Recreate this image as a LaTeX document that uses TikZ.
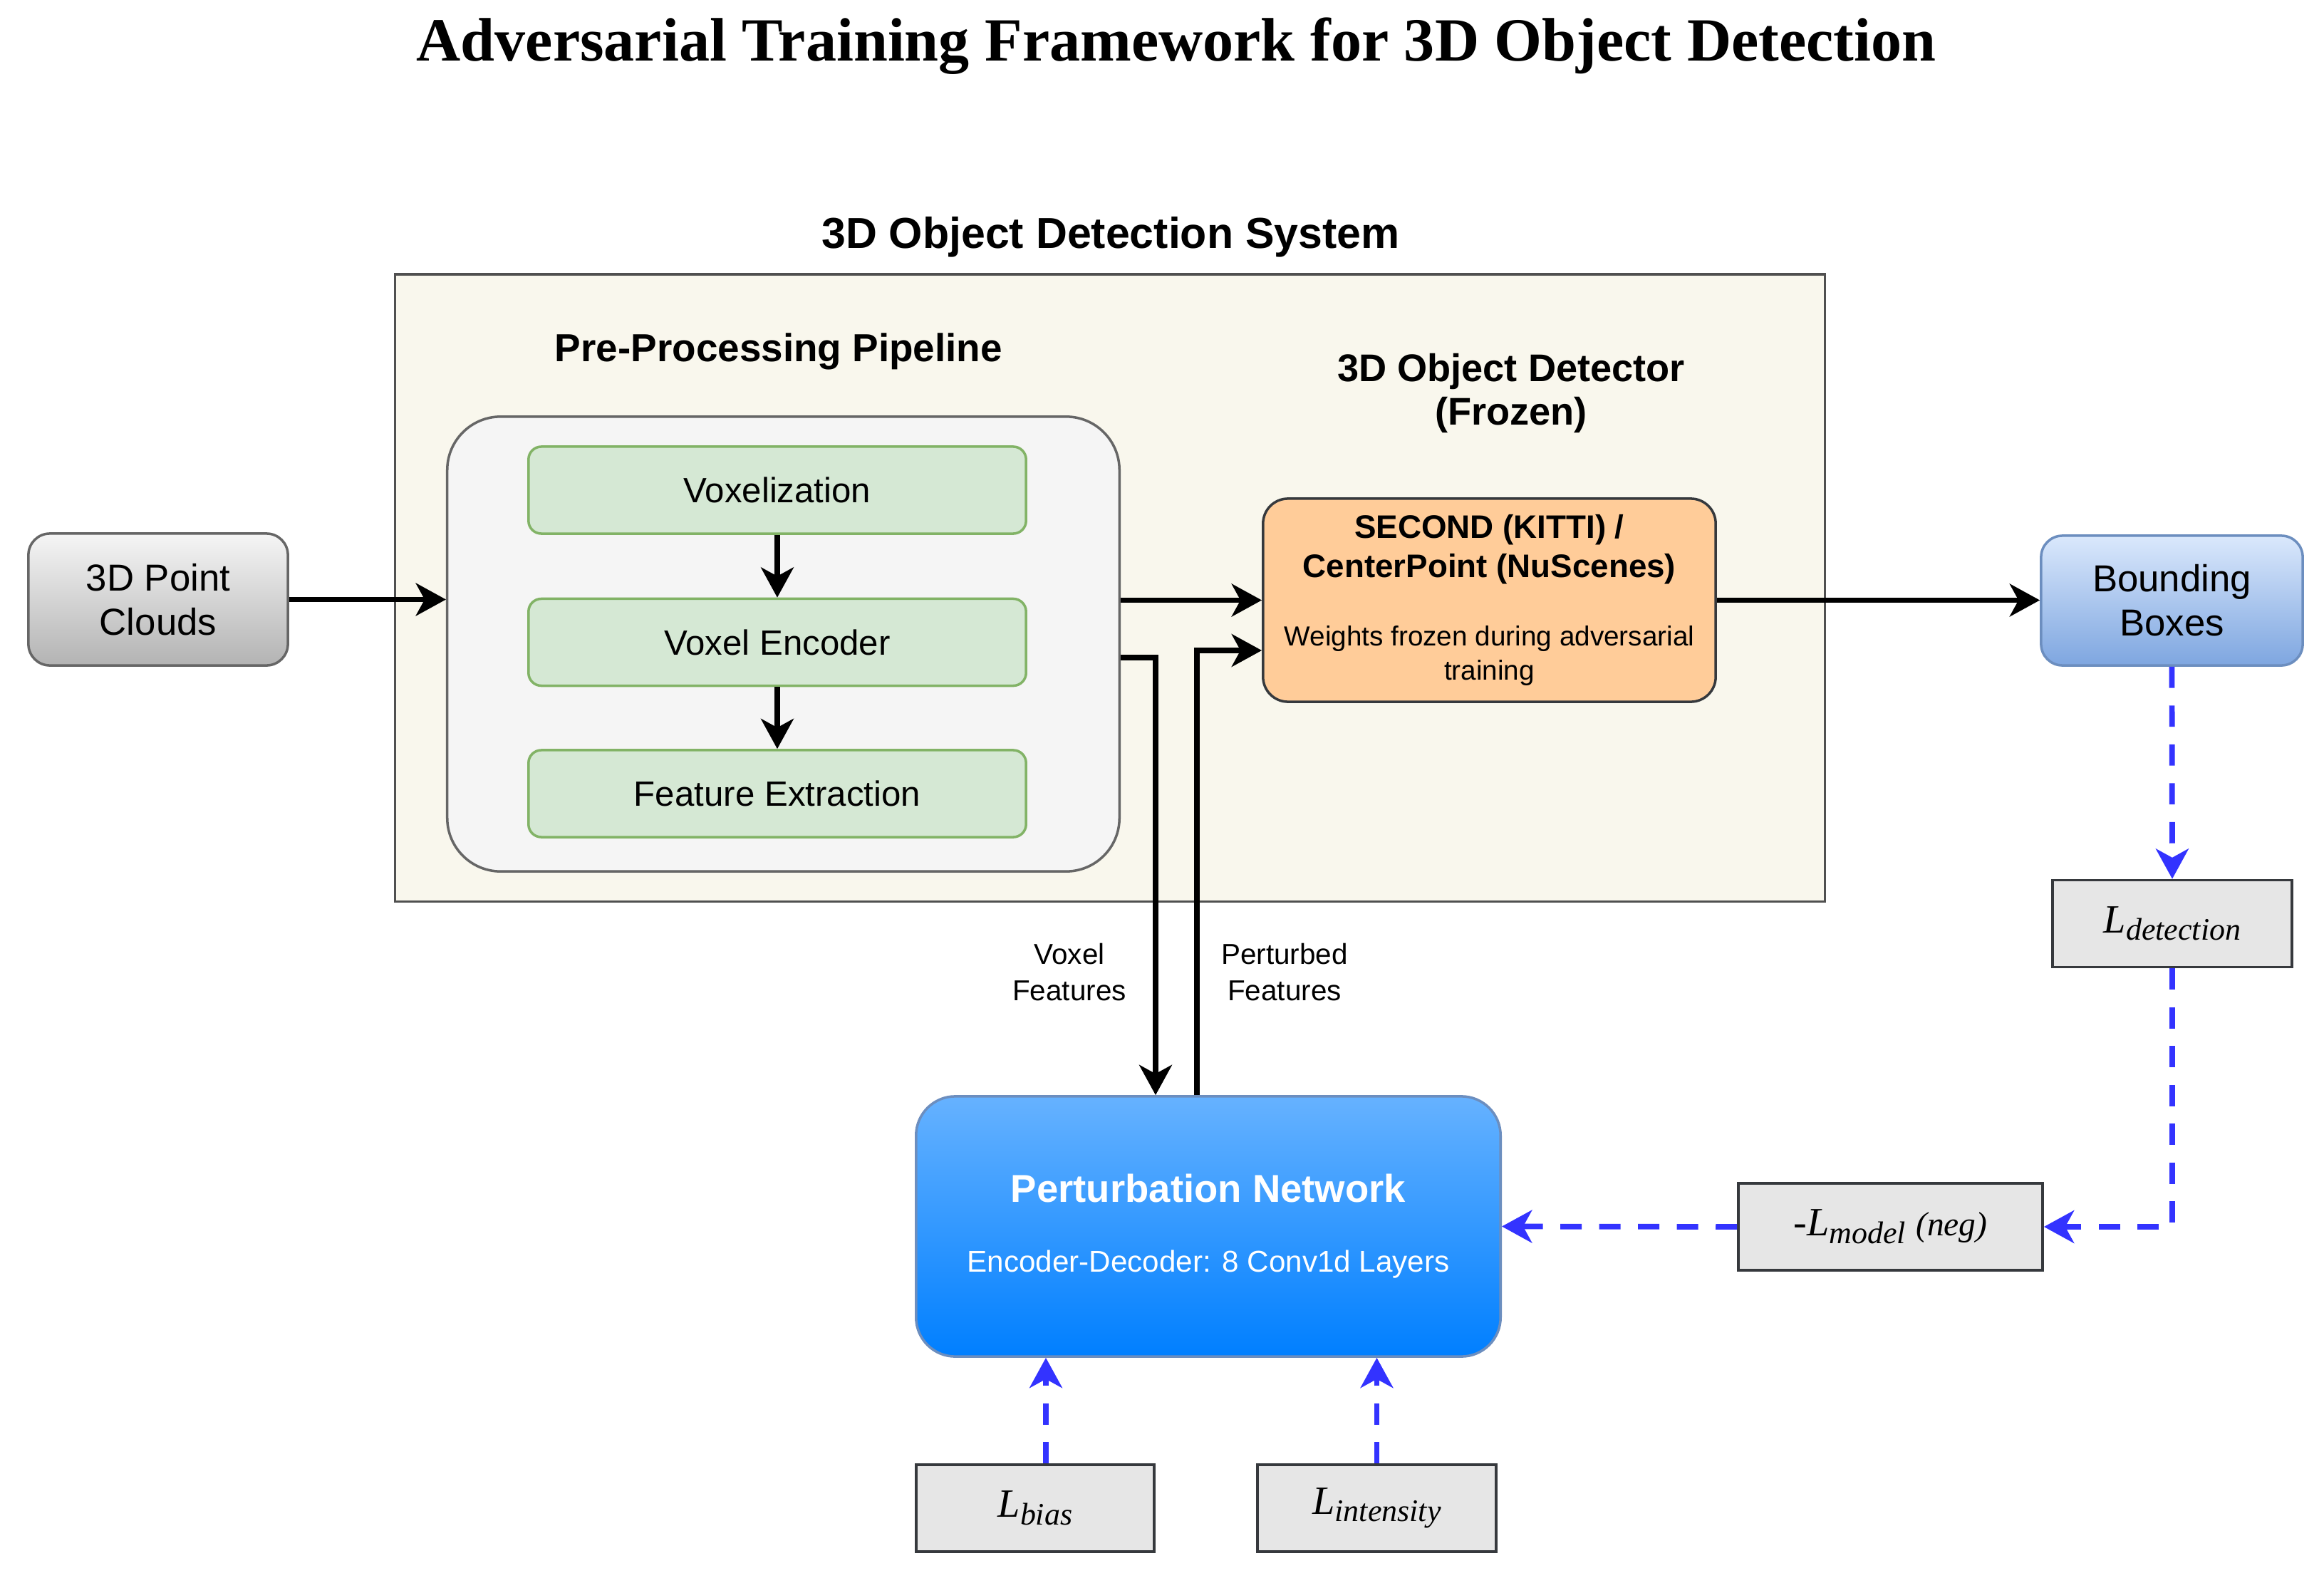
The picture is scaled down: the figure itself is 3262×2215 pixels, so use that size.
\documentclass[tikz,border=0pt]{standalone}
\usepackage{fontspec}
\setmainfont{Liberation Sans}
\newfontfamily\serifrm{Liberation Serif}
\usetikzlibrary{arrows.meta,calc}
\definecolor{sysfill}{HTML}{F9F7ED}
\definecolor{sysdraw}{HTML}{505050}
\definecolor{pipefill}{HTML}{F5F5F5}
\definecolor{pipedraw}{HTML}{666666}
\definecolor{gfill}{HTML}{D5E8D4}
\definecolor{gdraw}{HTML}{82B366}
\definecolor{ofill}{HTML}{FFCC99}
\definecolor{darkdraw}{HTML}{36393D}
\definecolor{lfill}{HTML}{E6E6E6}
\definecolor{pctop}{HTML}{F5F5F5}
\definecolor{pcbot}{HTML}{B3B3B3}
\definecolor{bbtop}{HTML}{DAE8FC}
\definecolor{bbbot}{HTML}{7EA6E0}
\definecolor{bbdraw}{HTML}{6C8EBF}
\definecolor{pttop}{HTML}{66B2FF}
\definecolor{ptbot}{HTML}{007FFF}
\definecolor{lossblue}{HTML}{3333FF}
\newcommand\losssub[1]{{\serifrm\itshape\fontsize{16}{19}\selectfont L\raisebox{-3pt}{\fontsize{12.5}{15}\selectfont #1}}}
\begin{document}
\begin{tikzpicture}[x=0.01cm,y=-0.01cm,
  blk/.style={line width=2.2pt,-{Stealth[length=12pt,width=13pt,inset=3.5pt]}},
  bdash/.style={line width=2.2pt,draw=lossblue,dash pattern=on 8.5pt off 7pt,-{Stealth[length=12pt,width=13pt,inset=3.5pt,fill=lossblue]}},
  gbox/.style={draw=gdraw,fill=gfill,line width=1pt,rounded corners=0.18cm,minimum width=6.98cm,minimum height=1.22cm,font=\fontsize{14}{16.5}\selectfont},
  lossbox/.style={draw=darkdraw,fill=lfill,line width=1pt,minimum height=1.22cm},
  headlbl/.style={font=\bfseries\fontsize{15.4}{17.6}\selectfont}
]
\fill[white] (0,0) rectangle (3262,2215);
\useasboundingbox (0,0) rectangle (3262,2215);

\node[anchor=base,font=\serifrm\bfseries\fontsize{24.5}{28}\selectfont] (title) at (1651,85) {Adversarial Training Framework for 3D Object Detection};

% system container
\node[draw=sysdraw,fill=sysfill,line width=1pt,minimum width=20.06cm,minimum height=8.80cm] (sys) at (1558,825) {};
\node[anchor=base,font=\bfseries\fontsize{17.3}{21}\selectfont] (syslbl) at (1559,348) {3D Object Detection System};

% pipeline
\node[draw=pipedraw,fill=pipefill,line width=1pt,rounded corners=0.75cm,minimum width=9.43cm,minimum height=6.38cm] (pipe) at (1099.5,904) {};
\node[anchor=base,font=\bfseries\fontsize{15.6}{18}\selectfont] (pipelbl) at (1093,507) {Pre-Processing Pipeline};
\node[gbox] (vox) at (1091,688) {Voxelization};
\node[gbox] (enc) at (1091,901.5) {Voxel Encoder};
\node[gbox] (feat) at (1091,1114) {Feature Extraction};

% detector
\node[headlbl,align=center] (detlbl) at (2121,552) {3D Object Detector\\(Frozen)};
\node[draw=darkdraw,fill=ofill,line width=1pt,rounded corners=0.35cm,minimum width=6.35cm,minimum height=2.85cm,align=center,font=\fontsize{13}{15.4}\selectfont] (sec) at (2090.5,842.5)
  {\textbf{SECOND (KITTI) /}\\\textbf{CenterPoint (NuScenes)}\\[11.9pt]{\fontsize{11}{13.7}\selectfont Weights frozen during adversarial}\\[-1.7pt]{\fontsize{11}{13.7}\selectfont training}};

% input / output
\node[draw=pipedraw,top color=pctop,bottom color=pcbot,line width=1pt,rounded corners=0.3cm,minimum width=3.64cm,minimum height=1.85cm,align=center,font=\fontsize{15}{17.6}\selectfont] (pc) at (222,841.5) {3D Point\\Clouds};
\node[draw=bbdraw,top color=bbtop,bottom color=bbbot,line width=1pt,rounded corners=0.3cm,minimum width=3.67cm,minimum height=1.82cm,align=center,font=\fontsize{15}{17.6}\selectfont] (bb) at (3048.5,843) {Bounding\\Boxes};

% perturbation network
\node[draw=bbdraw,top color=pttop,bottom color=ptbot,line width=1pt,rounded corners=0.55cm,minimum width=8.20cm,minimum height=3.65cm,align=center,text=white,font=\bfseries\fontsize{15.5}{18}\selectfont] (pert) at (1696,1721.5)
  {Perturbation Network\\[9.9pt]{\mdseries\fontsize{12}{14}\selectfont Encoder-Decoder: 8 Conv1d Layers}};

% losses
\node[lossbox,minimum width=3.36cm] (ld) at (3049,1296.5) {\losssub{detection}};
\node[lossbox,minimum width=4.27cm] (lm) at (2653.5,1722) {{\serifrm\itshape\fontsize{16}{19}\selectfont -L\raisebox{-3pt}{\fontsize{12.5}{15}\selectfont model} {\fontsize{13.5}{15}\selectfont (neg)}}};
\node[lossbox,minimum width=3.34cm] (lbias) at (1453,2117) {\losssub{bias}};
\node[lossbox,minimum width=3.35cm] (lint) at (1932.5,2117) {\losssub{intensity}};

% feature labels
\node[align=center,font=\fontsize{11.5}{14.5}\selectfont] (vflbl) at (1501,1365) {Voxel\\Features};
\node[align=center,font=\fontsize{11.5}{14.5}\selectfont] (pflbl) at (1803,1365) {Perturbed\\Features};

% black connectors
\draw[blk] (vox) -- (enc);
\draw[blk] (enc) -- (feat);
\draw[blk] (pc.east) -- (pc.east -| pipe.west);
\draw[blk] (pipe.east |- sec.west) -- (sec.west);
\draw[blk] (sec.east) -- (sec.east -| bb.west);
\coordinate (vfturn) at (1622,923);
\coordinate (pfturn) at (1680,913);
\draw[blk] (pipe.east |- vfturn) -- (vfturn) -- (vfturn |- pert.north);
\draw[blk] (pfturn |- pert.north) -- (pfturn) -- (pfturn -| sec.west);

% blue dashed loss connectors
\draw[bdash] (bb.south) -- (ld.north);
\draw[bdash] (ld.south) |- (lm.east);
\draw[bdash] (lm.west) -- (pert.east);
\draw[bdash] ([xshift=0.15cm]lbias.north) -- ([xshift=0.15cm]lbias.north |- pert.south);
\draw[bdash] (lint.north) -- (lint.north |- pert.south);
\end{tikzpicture}
\end{document}
